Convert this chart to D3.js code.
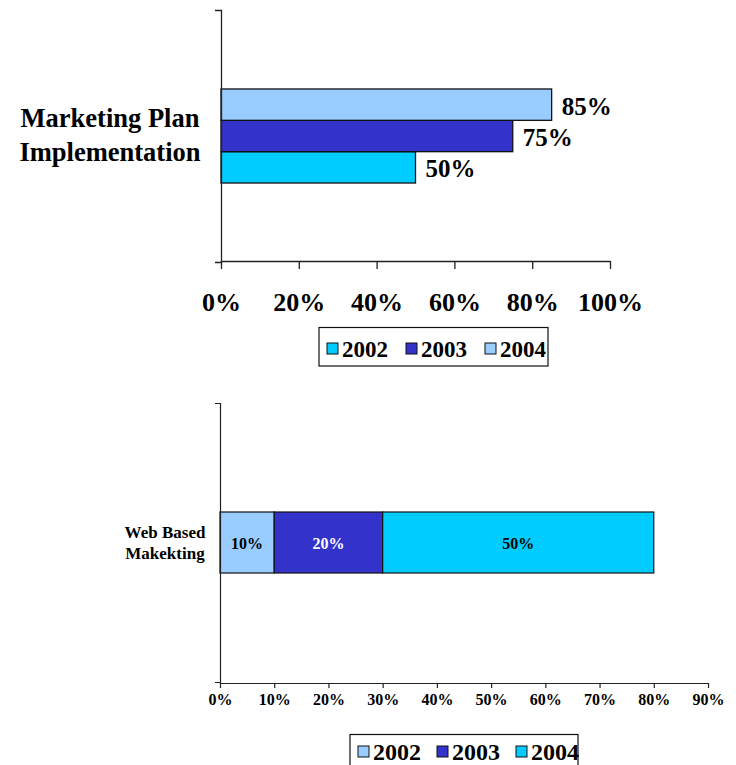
<!DOCTYPE html>
<html>
<head>
<meta charset="utf-8">
<script src="https://cdn.jsdelivr.net/npm/d3@7"></script>
<style>
  html, body { margin: 0; padding: 0; background: #fff; }
  svg { display: block; }
  text { font-family: "Liberation Serif", "Times New Roman", serif; font-weight: bold; fill: #000; }
</style>
</head>
<body>
<svg id="chart" width="736" height="765"></svg>
<script>
// ---------- data ----------
const topCategory = ["Marketing Plan", "Implementation"];
const topYears = ["2002", "2003", "2004"];
const topValues = [0.50, 0.75, 0.85];
const topTicks = [0, 0.2, 0.4, 0.6, 0.8, 1.0];

const bottomCategory = ["Web Based", "Makekting"];
const bottomYears = ["2002", "2003", "2004"];
const bottomValues = [0.10, 0.20, 0.50];
const bottomTicks = [0, 0.1, 0.2, 0.3, 0.4, 0.5, 0.6, 0.7, 0.8, 0.9];

const topColors = { "2002": "#00CCFF", "2003": "#3333CC", "2004": "#99CCFF" };
const bottomColors = { "2002": "#99CCFF", "2003": "#3333CC", "2004": "#00CCFF" };
const bottomLabelColors = { "2002": "#000", "2003": "#fff", "2004": "#000" };

const svg = d3.select("#chart");
const pct = d3.format(".0%");

// ---------- TOP CHART ----------
{
  const g = svg.append("g");
  const x = d3.scaleLinear().domain([0, 1]).range([221, 610]);
  const yCat = d3.scaleBand().domain([topCategory.join(" ")]).range([10, 262]).paddingInner(0).paddingOuter(0.84);
  const ySer = d3.scaleBand().domain(["2004", "2003", "2002"]).range([yCat(yCat.domain()[0]), yCat(yCat.domain()[0]) + yCat.bandwidth()]);

  const rows = topYears.map((y, i) => ({ year: y, value: topValues[i] }));

  g.selectAll("rect.bar").data(rows).join("rect")
    .attr("class", "bar")
    .attr("x", x(0))
    .attr("y", d => ySer(d.year))
    .attr("width", d => x(d.value) - x(0))
    .attr("height", ySer.bandwidth())
    .attr("fill", d => topColors[d.year])
    .attr("stroke", "#111")
    .attr("stroke-width", 1.3);

  g.selectAll("text.val").data(rows).join("text")
    .attr("class", "val")
    .attr("x", d => x(d.value) + 10)
    .attr("y", d => ySer(d.year) + ySer.bandwidth() / 2 + 10)
    .attr("font-size", 25)
    .text(d => pct(d.value));

  // axes
  const xAxis = g.append("g").attr("transform", "translate(0,261)")
    .call(d3.axisBottom(x).tickValues(topTicks).tickFormat(pct).tickSizeInner(8).tickSizeOuter(0));
  xAxis.selectAll("path, line").attr("stroke", "#222").attr("stroke-width", 1.3);
  xAxis.selectAll("text").attr("font-size", 26).attr("y", 50).attr("dy", 0)
    .attr("font-family", "Liberation Serif, Times New Roman, serif").attr("font-weight", "bold").attr("fill", "#000");

  const yAxis = g.append("g").attr("transform", "translate(221,0)")
    .call(d3.axisLeft(yCat).tickValues([]).tickSizeOuter(6));
  yAxis.selectAll("path").attr("stroke", "#222").attr("stroke-width", 1.3);

  const cy = yCat(yCat.domain()[0]) + yCat.bandwidth() / 2;
  g.append("text").attr("x", 110).attr("text-anchor", "middle").attr("font-size", 26.5)
    .selectAll("tspan").data(topCategory).join("tspan")
    .attr("x", 110).attr("y", (d, i) => cy - 9 + i * 34).text(d => d);

  // legend
  const lg = g.append("g");
  lg.append("rect").attr("x", 319).attr("y", 327.5).attr("width", 229).attr("height", 38.5)
    .attr("fill", "#fff").attr("stroke", "#111").attr("stroke-width", 1.2);
  const li = lg.selectAll("g.item").data(topYears).join("g").attr("class", "item")
    .attr("transform", (d, i) => `translate(${327 + i * 79},0)`);
  li.append("rect").attr("x", 0).attr("y", 343).attr("width", 11).attr("height", 11)
    .attr("fill", d => topColors[d]).attr("stroke", "#111").attr("stroke-width", 1);
  li.append("text").attr("x", 15).attr("y", 357).attr("font-size", 23).text(d => d);
}

// ---------- BOTTOM CHART ----------
{
  const g = svg.append("g");
  const x = d3.scaleLinear().domain([0, 0.9]).range([220, 708]);
  const yCat = d3.scaleBand().domain([bottomCategory.join(" ")]).range([403, 682]).paddingInner(0).paddingOuter(1.787);

  const row = {};
  bottomYears.forEach((y, i) => row[y] = bottomValues[i]);
  const stacked = d3.stack().keys(bottomYears)([row]);
  const cat = yCat.domain()[0];

  g.selectAll("rect.seg").data(stacked).join("rect")
    .attr("class", "seg")
    .attr("x", d => x(d[0][0]))
    .attr("y", yCat(cat))
    .attr("width", d => x(d[0][1]) - x(d[0][0]))
    .attr("height", yCat.bandwidth())
    .attr("fill", d => bottomColors[d.key])
    .attr("stroke", "#111")
    .attr("stroke-width", 1.2);

  g.selectAll("text.seglbl").data(stacked).join("text")
    .attr("class", "seglbl")
    .attr("x", d => (x(d[0][0]) + x(d[0][1])) / 2)
    .attr("y", yCat(cat) + yCat.bandwidth() / 2 + 6)
    .attr("text-anchor", "middle")
    .attr("font-size", 16)
    .style("fill", d => bottomLabelColors[d.key])
    .text(d => pct(d[0][1] - d[0][0]));

  const xAxis = g.append("g").attr("transform", "translate(0,683)")
    .call(d3.axisBottom(x).tickValues(bottomTicks).tickFormat(pct).tickSizeInner(5).tickSizeOuter(0));
  xAxis.selectAll("path, line").attr("stroke", "#222").attr("stroke-width", 1.2);
  xAxis.selectAll("text").attr("font-size", 16).attr("y", 22).attr("dy", 0)
    .attr("font-family", "Liberation Serif, Times New Roman, serif").attr("font-weight", "bold").attr("fill", "#000");

  const yAxis = g.append("g").attr("transform", "translate(220,0)")
    .call(d3.axisLeft(yCat).tickValues([]).tickSizeOuter(5));
  yAxis.selectAll("path").attr("stroke", "#222").attr("stroke-width", 1.2);

  g.append("text").attr("text-anchor", "middle").attr("font-size", 17)
    .selectAll("tspan").data(bottomCategory).join("tspan")
    .attr("x", 165).attr("y", (d, i) => 538 + i * 21).text(d => d);

  // legend
  const lg = g.append("g");
  lg.append("rect").attr("x", 350).attr("y", 734.5).attr("width", 228).attr("height", 40)
    .attr("fill", "#fff").attr("stroke", "#111").attr("stroke-width", 1.2);
  const li = lg.selectAll("g.item").data(bottomYears).join("g").attr("class", "item")
    .attr("transform", (d, i) => `translate(${358 + i * 79},0)`);
  li.append("rect").attr("x", 0).attr("y", 746).attr("width", 11).attr("height", 11)
    .attr("fill", d => bottomColors[d]).attr("stroke", "#111").attr("stroke-width", 1);
  li.append("text").attr("x", 15).attr("y", 760).attr("font-size", 24).text(d => d);
}
</script>
</body>
</html>
